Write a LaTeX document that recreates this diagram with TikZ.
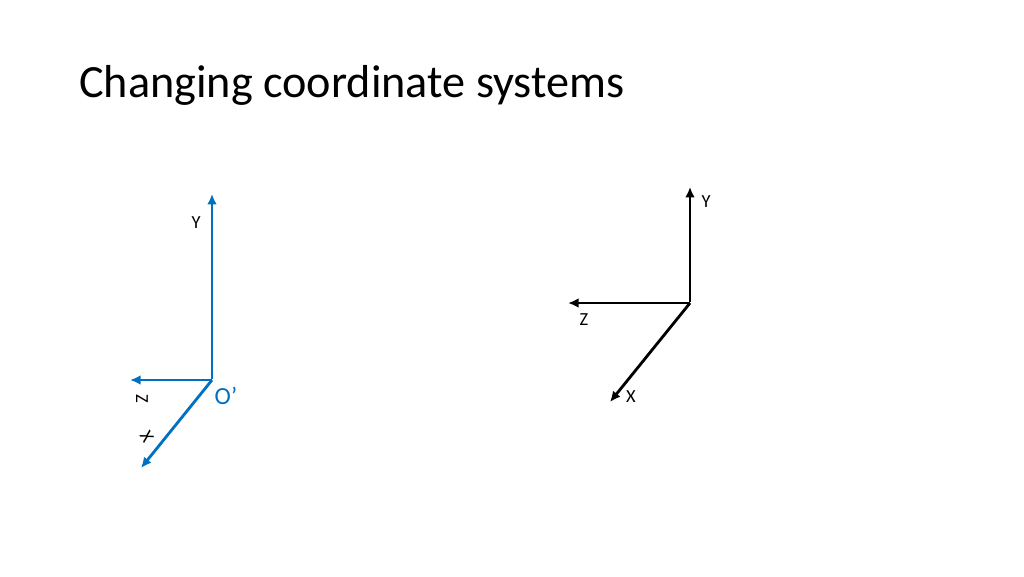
\documentclass[tikz,border=0pt]{standalone}
\usepackage{fontspec}
\setmainfont{Carlito}
\usetikzlibrary{arrows.meta,positioning}
\definecolor{axisblue}{RGB}{0,112,192}

\begin{document}
\begin{tikzpicture}[x=0.02cm,y=-0.02cm,axis/.style={line width=1.6pt},invisible/.style={minimum width=0mm,inner sep=0mm,outer sep=0mm,draw=none},lbl/.style={font=\fontsize{10.5}{12}\selectfont,inner sep=0}]
\useasboundingbox (0,0) rectangle (1024,576);

% Title
\node[anchor=west,inner sep=0,font=\fontsize{26.3}{30}\selectfont] (title) at (79,85) {Changing coordinate systems};

% blue frame
\node[invisible] (o1) at (212,380) {};
\node[invisible] (y1) at (212,193) {};
\node[invisible] (z1) at (130,380) {};
\node[invisible] (x1) at (141,468) {};

\path (o1) edge[-{Latex[length=6pt,width=5.5pt]},axis,axisblue] (y1);
\path (o1) edge[-{Latex[length=6pt,width=5.5pt]},axis,axisblue] (z1);
\path (o1) edge[-{Latex[length=6pt,width=5.5pt]},axis,axisblue] (x1);

\node[lbl] at (196,223) (ylab1) {Y};
\node[lbl,rotate=-90] at (142,399) (zlab1) {Z};
\node[lbl,rotate=-60] at (147,437) (xlab1) {X};
\node[inner sep=0,text=axisblue,font=\fontsize{14}{16}\selectfont] at (226,396) (olab) {O’};

% black frame
\node[invisible] (o2) at (690,303) {};
\node[invisible] (y2) at (690,186) {};
\node[invisible] (z2) at (568,303) {};
\node[invisible] (x2) at (610,402) {};

\path (o2) edge[-{Latex[length=6pt,width=5.5pt]},axis] (y2);
\path (o2) edge[-{Latex[length=6pt,width=5.5pt]},axis] (z2);
\path (o2) edge[-{Latex[length=6pt,width=5.5pt]},axis] (x2);

\node[lbl] at (706,202) (ylab2) {Y};
\node[lbl] at (584,320) (zlab2) {Z};
\node[lbl] at (631,397) (xlab2) {X};

\end{tikzpicture}
\end{document}
